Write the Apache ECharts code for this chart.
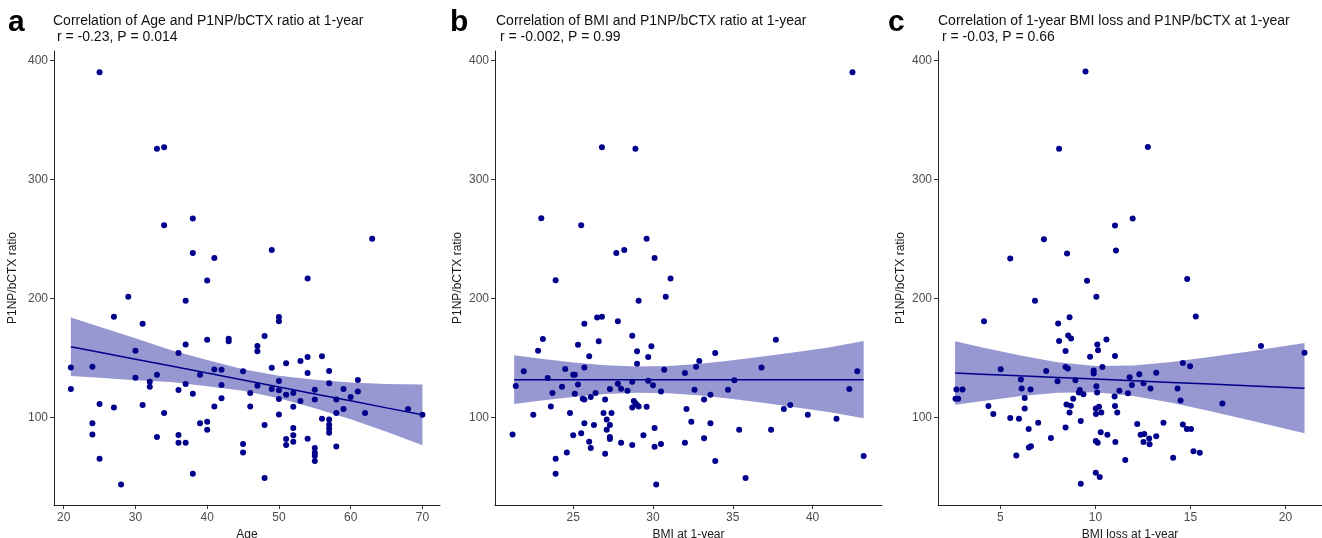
<!DOCTYPE html>
<html>
<head>
<meta charset="utf-8">
<script src="https://cdn.jsdelivr.net/npm/echarts@6/dist/echarts.min.js"></script>
<style>
html,body{margin:0;padding:0;background:#fff;}
#chart{width:1322px;height:538px;}
</style>
</head>
<body>
<div id="chart"></div>
<script>
// ---------- DATA ----------
const panelLetters = ['a', 'b', 'c'];
const panelTitles = [
  'Correlation of Age and P1NP/bCTX ratio at 1-year',
  'Correlation of BMI and P1NP/bCTX ratio at 1-year',
  'Correlation of 1-year BMI loss and P1NP/bCTX at 1-year'
];
const panelStats = [' r = -0.23, P = 0.014', ' r = -0.002, P = 0.99', ' r = -0.03, P = 0.66'];
const xNames = ['Age', 'BMI at 1-year', 'BMI loss at 1-year'];
const yName = 'P1NP/bCTX ratio';

const yTicks = [100, 200, 300, 400];
const ageTicks = [20, 30, 40, 50, 60, 70];
const bmiTicks = [25, 30, 35, 40];
const lossTicks = [5, 10, 15, 20];

// Panel a: Age vs ratio
const agePoints = [
[25,390],[33,325.6],[34,327],[38,267],[34,261.4],[38,238],[41,234],[49,240.6],[63,250],[40,215],[54,216.7],
[29,201.4],[37,198],[27,184.6],[50,184.3],[50,180.7],[31,178.7],[48,168.3],[40,165.3],[43,166],[43,163.9],[37,161.3],[47,160],[47,155.5],[30,156],[36,154],[54,150.7],[56,151.3],[53,147.3],[51,145.4],[21,142],[24,142.6],[49,141.7],[41,140.3],[42,140],[45,138.7],[57,139],[54,137.3],[39,135.9],[33,135.9],[30,133.3],[32,130],[50,130.5],[61,131.4],[37,128],[57,128.6],[42,127.2],[47,126.6],[32,125.8],[21,123.8],[49,123.8],[50,122.7],[55,123.2],[59,123.8],[36,123],[61,121.8],[52,120.4],[51,119],[38,119.9],[46,120.4],[60,117.1],[42,116],[50,115.4],[55,115.1],[58,115.1],[53,113.7],[25,111.2],[31,110.4],[27,108.4],[41,109.2],[46,109.2],[52,109],[59,107],[68,107],[34,103.6],[58,103.6],[62,103.6],[50,102.5],[70,102.2],[56,98.9],[57,98.3],[40,96.4],[39,95],[24,95],[57,93.8],[48,93.6],[52,91],[57,90.5],[40,89.6],[57,87.1],[24,85.7],[36,85.2],[52,84.9],[33,83.5],[54,82.1],[51,81.8],[52,79.6],[36,78.7],[37,78.7],[51,76.8],[45,77.6],[58,75.6],[55,74.2],[45,70.6],[55,70.3],[55,67.8],[55,63.3],[25,65.3],[38,52.7],[48,49],[28,43.7]
];
const ageBandX  = [21, 25, 30, 35, 40, 45, 50, 55, 60, 65, 70];
const ageFit    = [159.4, 154.7, 148.9, 143.1, 137.2, 131.4, 125.5, 119.7, 113.9, 108.0, 102.2];
const ageBandLo = [134.8, 133.3, 131.3, 129.8, 126.2, 122.4, 116.0, 107.7, 98.4, 88.0, 76.7];
const ageBandHi = [184.0, 176.1, 166.5, 156.4, 148.2, 140.4, 135.0, 131.7, 129.4, 128.0, 127.7];

// Panel b: BMI vs ratio
const bmiPoints = [
[42.5,390],[26.8,326.9],[28.9,325.6],[23.0,267.2],[25.5,261.4],[29.6,250],[28.2,240.6],[27.7,238],[30.1,233.9],[23.9,215.3],[31.1,216.7],
[30.8,201.4],[29.1,198],[25.7,178.7],[27.8,180.7],[26.5,184],[26.8,184.6],[28.7,168.6],[23.1,165.8],[37.7,165.3],[26.6,163.9],[25.3,161.1],[29.9,159.7],[22.8,156],[29.0,155.5],[33.9,154],[26.0,151.3],[29.7,150.7],[32.9,147.3],[29.0,145.1],[32.7,142.6],[36.8,142],[25.7,142],[24.5,140.6],[30.7,140],[21.9,138.7],[42.8,138.7],[32.0,137.3],[25.0,135.9],[25.1,135.9],[23.4,133],[35.1,131.1],[29.7,130.8],[28.7,130],[27.8,128.3],[25.3,127.7],[30.0,126.9],[21.4,126.3],[24.3,125.8],[28.0,124.1],[27.3,123.8],[32.6,123.2],[34.7,123.2],[42.3,123.8],[28.4,122.4],[30.5,121.8],[26.4,120.4],[23.7,120.4],[25.1,119.9],[33.6,119],[26.1,117.1],[25.6,115.7],[25.7,115.1],[27.0,115.1],[33.2,115.1],[28.8,113.7],[28.9,111.8],[29.0,110.4],[38.6,110.4],[23.6,109.2],[28.7,108.4],[29.1,109.2],[29.6,109],[32.1,107],[38.2,107],[22.5,102.2],[24.8,103.6],[26.9,103.6],[27.4,103.6],[39.7,102.2],[41.5,98.9],[27.1,98.3],[32.4,96.4],[25.7,95],[26.3,93.6],[33.6,95],[27.3,93.6],[30.1,91],[27.1,89.6],[35.4,89.6],[37.4,89.6],[21.2,85.7],[25.5,86.6],[25.0,84.9],[29.4,84.9],[27.3,83.5],[27.3,81.8],[33.2,82.4],[26.0,79.6],[28.0,78.7],[32.0,78.7],[28.7,76.8],[30.5,77.6],[26.1,74.2],[30.1,75.4],[24.6,70.6],[27.0,69.5],[43.2,67.5],[23.9,65.3],[33.9,63.3],[23.9,52.7],[35.8,49],[30.2,43.7]
];
const bmiBandX  = [21.3, 23, 25, 27, 29, 31, 33, 35, 37, 39, 41, 43.2];
const bmiFit    = [131.7, 131.7, 131.7, 131.7, 131.7, 131.7, 131.7, 131.7, 131.7, 131.7, 131.7, 131.7];
const bmiBandLo = [111.2, 114.2, 117.2, 119.6, 120.7, 120.2, 118.3, 115.4, 112.1, 108.4, 104.6, 99.2];
const bmiBandHi = [152.2, 149.2, 146.2, 143.8, 142.7, 143.2, 145.1, 148.0, 151.3, 155.0, 158.8, 164.2];

// Panel c: BMI loss vs ratio
const lossPoints = [
[9.48,390.5],[8.09,325.7],[12.76,327.1],[11.96,267],[11.03,261.2],[7.29,249.7],[11.08,240.2],[8.51,237.7],[5.52,233.5],[9.56,214.8],[14.83,216.2],
[10.05,201.4],[6.82,198],[15.28,184.7],[8.64,184.1],[4.14,180.8],[8.04,178.8],[8.57,168.8],[8.72,166.3],[10.58,165.5],[8.09,164.1],[10.10,161.3],[18.71,159.9],[10.14,156.3],[8.43,155.7],[21.0,154.3],[11.03,151.5],[9.72,151],[14.60,145.7],[14.98,142.9],[8.43,142.3],[8.55,141],[10.37,142.3],[5.02,140.4],[7.41,139],[9.91,139.3],[9.91,136.8],[13.20,137.6],[12.31,136.2],[11.80,133.7],[12.53,128.7],[6.08,131.8],[8.01,130.4],[8.95,131.2],[11.92,127.3],[10.05,126.2],[2.69,123.4],[3.01,123.4],[6.12,124.2],[6.59,123.4],[12.90,124.2],[14.32,124.2],[9.18,123.1],[9.13,120.9],[9.37,119.5],[10.09,120.9],[11.26,122.3],[11.71,120.3],[2.64,115.6],[2.78,115.6],[6.28,116.2],[8.83,115.6],[11.01,117.5],[14.48,114.2],[16.68,111.7],[8.48,110.9],[8.71,109.7],[4.37,109.5],[11.03,109.5],[6.28,107.5],[10.02,107.5],[10.19,108.9],[10.31,104.2],[8.64,104.2],[10.03,102.8],[11.15,104.2],[4.63,102.8],[5.52,99.4],[5.98,98.9],[9.23,96.9],[6.99,95.5],[12.20,94.4],[13.58,95.5],[14.60,94.1],[8.43,91.6],[6.49,90.3],[14.81,90.3],[15.03,90.3],[10.28,87.5],[10.63,85.5],[12.38,85.5],[12.57,86.1],[13.20,84.1],[7.66,82.7],[12.83,82.2],[10.02,80.2],[10.12,78.8],[11.05,79.4],[12.53,79.4],[12.85,77.4],[6.61,75.8],[6.50,74.7],[15.16,71.6],[15.49,70.2],[5.84,68],[11.57,64.1],[14.09,66.0],[10.02,53.5],[10.23,49.9],[9.23,44.3]
];
const lossBandX  = [2.62, 4, 6, 8, 10, 12, 14, 16, 18, 21];
const lossFit    = [137.3, 136.3, 134.9, 133.6, 132.2, 130.8, 129.4, 128.0, 126.6, 124.5];
const lossBandLo = [110.6, 113.6, 117.7, 120.8, 121.2, 118.0, 112.2, 105.3, 98.0, 86.6];
const lossBandHi = [164.0, 159.0, 152.1, 146.4, 143.2, 143.6, 146.6, 150.7, 155.2, 162.4];

// ---------- LAYOUT / STYLE ----------
const FONT = '"Liberation Sans", Arial, sans-serif';
const POINT_COLOR = '#00008B';
const BAND_COLOR = 'rgba(145,145,207,0.95)';
const grids = [
  {left: 54, top: 51, width: 386, height: 454, outerBoundsMode: 'none', containLabel: false},
  {left: 495, top: 51, width: 387, height: 454, outerBoundsMode: 'none', containLabel: false},
  {left: 938, top: 51, width: 384, height: 454, outerBoundsMode: 'none', containLabel: false}
];
const xRanges = [[18.65, 72.45], [20.1, 44.35], [1.72, 21.92]];
const yRange = [26.4, 407.8];
const xTickSets = [ageTicks, bmiTicks, lossTicks];
const yNameGaps = [35, 31, 31];
const titleX = [53, 496, 938];
const letterX = [8, 450, 888];

const panels = [
  {pts: agePoints, bx: ageBandX, fit: ageFit, lo: ageBandLo, hi: ageBandHi},
  {pts: bmiPoints, bx: bmiBandX, fit: bmiFit, lo: bmiBandLo, hi: bmiBandHi},
  {pts: lossPoints, bx: lossBandX, fit: lossFit, lo: lossBandLo, hi: lossBandHi}
];

const xAxes = [], yAxes = [], series = [], graphics = [];
panels.forEach((p, i) => {
  xAxes.push({
    type: 'value', gridIndex: i, min: xRanges[i][0], max: xRanges[i][1],
    name: xNames[i], nameLocation: 'middle', nameGap: 22,
    nameTextStyle: {fontSize: 12, color: '#1a1a1a', fontFamily: FONT},
    axisLine: {show: true, onZero: false, lineStyle: {color: '#222', width: 1}},
    axisTick: {show: true, length: 4, customValues: xTickSets[i], lineStyle: {color: '#333'}},
    axisLabel: {customValues: xTickSets[i], fontSize: 12, color: '#4d4d4d', margin: 7, fontFamily: FONT},
    splitLine: {show: false}
  });
  yAxes.push({
    type: 'value', gridIndex: i, min: yRange[0], max: yRange[1],
    name: yName, nameLocation: 'middle', nameGap: yNameGaps[i], nameRotate: 90,
    nameTextStyle: {fontSize: 12, color: '#1a1a1a', fontFamily: FONT},
    axisLine: {show: true, onZero: false, lineStyle: {color: '#222', width: 1}},
    axisTick: {show: true, length: 4, customValues: yTicks, lineStyle: {color: '#333'}},
    axisLabel: {customValues: yTicks, fontSize: 12, color: '#4d4d4d', margin: 6, fontFamily: FONT},
    splitLine: {show: false}
  });
  // confidence band
  series.push({
    type: 'custom', xAxisIndex: i, yAxisIndex: i, z: 2, silent: true,
    data: p.bx.map((x, k) => [x, p.lo[k], p.hi[k]]),
    encode: {x: 0, y: [1, 2]},
    renderItem: function (params, api) {
      if (params.dataIndex !== 0) return null;
      const upper = p.bx.map((x, k) => api.coord([x, p.hi[k]]));
      const lower = p.bx.map((x, k) => api.coord([x, p.lo[k]])).reverse();
      return {type: 'polygon', shape: {points: upper.concat(lower)}, style: {fill: BAND_COLOR}};
    }
  });
  // fitted line
  series.push({
    type: 'line', xAxisIndex: i, yAxisIndex: i, z: 3, silent: true,
    data: p.bx.map((x, k) => [x, p.fit[k]]),
    showSymbol: false, symbol: 'none',
    lineStyle: {color: POINT_COLOR, width: 1.5}
  });
  // points
  series.push({
    type: 'scatter', xAxisIndex: i, yAxisIndex: i, z: 4,
    data: p.pts, symbol: 'circle', symbolSize: 6,
    itemStyle: {color: POINT_COLOR, opacity: 1}
  });
  graphics.push({
    type: 'text', left: letterX[i], top: 8,
    style: {text: panelLetters[i], font: 'bold 30px ' + FONT, fill: '#000'}
  });
  graphics.push({
    type: 'text', left: titleX[i], top: 14,
    style: {text: panelTitles[i], font: '14px ' + FONT, fill: '#111'}
  });
  graphics.push({
    type: 'text', left: titleX[i], top: 30,
    style: {text: panelStats[i], font: '14px ' + FONT, fill: '#111'}
  });
});

const chart = echarts.init(document.getElementById('chart'), null, {renderer: 'canvas'});
chart.setOption({
  animation: false,
  backgroundColor: '#fff',
  grid: grids,
  xAxis: xAxes,
  yAxis: yAxes,
  series: series,
  graphic: graphics
});
</script>
</body>
</html>
